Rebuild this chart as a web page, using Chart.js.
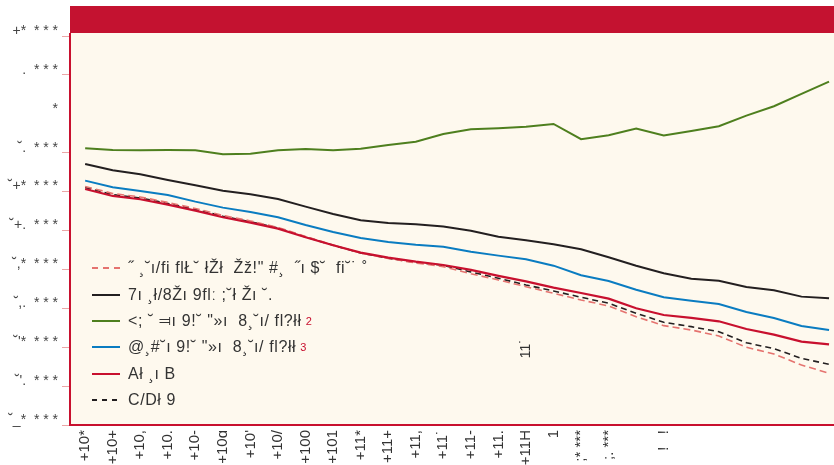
<!DOCTYPE html>
<html>
<head>
<meta charset="utf-8">
<script src="https://cdn.jsdelivr.net/npm/chart.js@4.4.0/dist/chart.umd.min.js"></script>
<style>
  html,body{margin:0;padding:0;background:#fff;overflow:hidden;}
  #wrap{position:relative;width:834px;height:465px;}
  #legend{position:absolute;left:92px;top:255px;font-family:"Liberation Sans",Arial,sans-serif;font-size:16px;letter-spacing:0.6px;color:#333;}
  .row{height:26.4px;display:flex;align-items:center;white-space:pre;}
  .row svg{margin-right:8px;}
  sup{color:#C8102E;font-size:11px;vertical-align:7px;margin-left:4px;}
</style>
</head>
<body>
<div id="wrap">
  <canvas id="c" width="834" height="465"></canvas>
  <div id="legend"></div>
</div>
<script>
// ---- data ----
const xLabels = ["+10*","+10+","+10,","+10.","+10-","+10ɑ","+10'","+10/","+100","+101","+11*","+11+","+11,","+11˙","+11-","+11.","+11H","1",";* ***",";. ***","","!   !","","","","","",""];
const yTickLabels = {"10000":"+*  * * *","5000":".  * * *","0":"*","-5000":"˘.  * * *","-10000":"˘+*  * * *","-15000":"˘+.  * * *","-20000":"˘,*  * * *","-25000":"˘,.  * * *","-30000":"˘'*  * * *","-35000":"˘'.  * * *","-40000":"˘_*  * * *"};
const seriesNames = ["˝ ¸˘ı/fi flŁ˘ łŽł  Žž!\" #¸  ˝ı $˘  fi˘˙ ˚","7ı ¸ł/8Žı 9flː ;˘ł Žı ˘.","<; ˘ ⫤ı 9!˘ \"»ı  8¸˘ı/ fl?łł","@¸#˘ı 9!˘ \"»ı  8¸˘ı/ fl?łł","Ał ¸ı B","C/Dł 9"];
const seriesNotes = ["","","2","3","",""];
const pinkDashed = [-9340,-10240,-10690,-11390,-12170,-13070,-13770,-14610,-15770,-16860,-17890,-18590,-19170,-19650,-20550,-21360,-22220,-23070,-23930,-24700,-26080,-27230,-27790,-28560,-30010,-30870,-32290,-33350];
const blackSolid = [-6440,-7250,-7770,-8500,-9180,-9880,-10340,-10940,-11930,-12870,-13680,-14030,-14200,-14500,-15020,-15790,-16250,-16770,-17410,-18440,-19520,-20500,-21190,-21450,-22260,-22680,-23500,-23710];
const greenSolid = [-4430,-4650,-4680,-4650,-4680,-5200,-5120,-4680,-4520,-4680,-4480,-4000,-3580,-2590,-1980,-1850,-1650,-1300,-3270,-2750,-1900,-2800,-2200,-1600,-230,970,2560,4140];
const blueSolid = [-8590,-9440,-9920,-10430,-11290,-12060,-12620,-13300,-14290,-15190,-15960,-16470,-16820,-17080,-17720,-18230,-18700,-19520,-20750,-21490,-22610,-23580,-24020,-24440,-25470,-26240,-27270,-27790];
const redSolid = [-9660,-10560,-10980,-11680,-12450,-13300,-13990,-14760,-15870,-16900,-17850,-18490,-19000,-19430,-20070,-20840,-21530,-22350,-23030,-23760,-25000,-25860,-26240,-26670,-27660,-28390,-29290,-29630];
const blackDashed = [-9470,-10370,-10820,-11520,-12290,-13170,-13880,-14670,-15830,-16900,-17890,-18570,-19110,-19470,-20330,-21140,-22000,-22770,-23580,-24350,-25640,-26800,-27360,-28010,-29420,-30190,-31430,-32200];
const plotNote = "11˙";

// ---- styles ----
const styles = [
  {color:"#E5736F", dash:[7,4], width:1.6},
  {color:"#231F20", dash:[], width:2},
  {color:"#4E7F1E", dash:[], width:2},
  {color:"#0A7CC1", dash:[], width:2},
  {color:"#C8102E", dash:[], width:2.2},
  {color:"#231F20", dash:[6,4], width:1.6}
];
const allSeries = [pinkDashed, blackSolid, greenSolid, blueSolid, redSolid, blackDashed];

const toPts = arr => arr.map((v,i)=>({x:i,y:v}));
const datasets = allSeries.map((arr,k)=>({
  label: seriesNames[k],
  data: toPts(arr),
  borderColor: styles[k].color,
  borderWidth: styles[k].width,
  borderDash: styles[k].dash,
  pointRadius: 0,
  tension: 0,
  fill: false,
  order: k===4 ? 0 : 1
}));

const bgPlugin = {
  id:'bg',
  beforeDraw(chart){
    const {ctx, chartArea:a} = chart;
    ctx.save();
    ctx.fillStyle = '#FEF9EE';
    ctx.fillRect(a.left, a.top-3, a.right-a.left, a.bottom-a.top+3);
    ctx.fillStyle = '#C41230';
    ctx.fillRect(a.left, 6, a.right-a.left, a.top-9);
    ctx.fillStyle = '#C8102E';
    ctx.fillRect(a.left-1, a.top-3, 2, 4);
    ctx.restore();
  },
  afterDraw(chart){
    const {ctx} = chart;
    const xs = chart.scales.x, ys = chart.scales.y;
    ctx.save();
    ctx.translate(xs.getPixelForValue(16.0), ys.getPixelForValue(-30200));
    ctx.rotate(-Math.PI/2);
    ctx.font = '14px "Liberation Sans", Arial, sans-serif';
    ctx.fillStyle = '#333';
    ctx.textAlign = 'center';
    ctx.textBaseline = 'middle';
    ctx.fillText(plotNote, 0, 0);
    ctx.restore();
  }
};

new Chart(document.getElementById('c'), {
  type:'line',
  data:{datasets},
  plugins:[bgPlugin],
  options:{
    responsive:false,
    animation:false,
    layout:{padding:{top:36,right:0,left:0,bottom:0}},
    plugins:{legend:{display:false},tooltip:{enabled:false}},
    scales:{
      x:{
        type:'linear',
        min:-0.55, max:27.18,
        afterBuildTicks(s){ s.ticks = xLabels.map((_,i)=>({value:i})); },
        afterFit(s){ s.height = 40; s.paddingLeft = 0; s.paddingRight = 0; },
        grid:{display:true, drawOnChartArea:false, drawTicks:false},
        border:{color:'#C8102E', width:2},
        ticks:{
          autoSkip:false, maxRotation:90, minRotation:90, padding:5,
          font:{family:'"Liberation Sans", Arial, sans-serif', size:15},
          color:'#333',
          callback:(v)=> xLabels[v] ?? ''
        }
      },
      y:{
        min:-40000, max:10000,
        afterBuildTicks(s){ s.ticks = Object.keys(yTickLabels).map(Number).sort((a,b)=>b-a).map(v=>({value:v})); },
        afterFit(s){ s.width = 70; },
        grid:{
          drawOnChartArea:false, tickLength:8,
          color:(c)=> (c.tick && c.tick.value===0) ? 'rgba(0,0,0,0)' : '#EBA6A6'
        },
        border:{color:'#C8102E', width:2},
        ticks:{
          padding:4, labelOffset:-5,
          font:{family:'"Liberation Sans", Arial, sans-serif', size:14},
          color:'#444',
          callback:(v)=> yTickLabels[String(v)] ?? ''
        }
      }
    }
  }
});

// ---- legend ----
const leg = document.getElementById('legend');
seriesNames.forEach((name,k)=>{
  const row = document.createElement('div');
  row.className = 'row';
  const st = styles[k];
  const dash = st.dash.length ? `stroke-dasharray="${st.dash[0]-1},${st.dash[1]+1}"` : '';
  row.innerHTML = `<svg width="28" height="4"><line x1="0" y1="2" x2="28" y2="2" stroke="${st.color}" stroke-width="2" ${dash}/></svg>`;
  const span = document.createElement('span');
  span.textContent = name;
  row.appendChild(span);
  if (seriesNotes[k]) { const s = document.createElement('sup'); s.textContent = seriesNotes[k]; row.appendChild(s); }
  leg.appendChild(row);
});
</script>
</body>
</html>
